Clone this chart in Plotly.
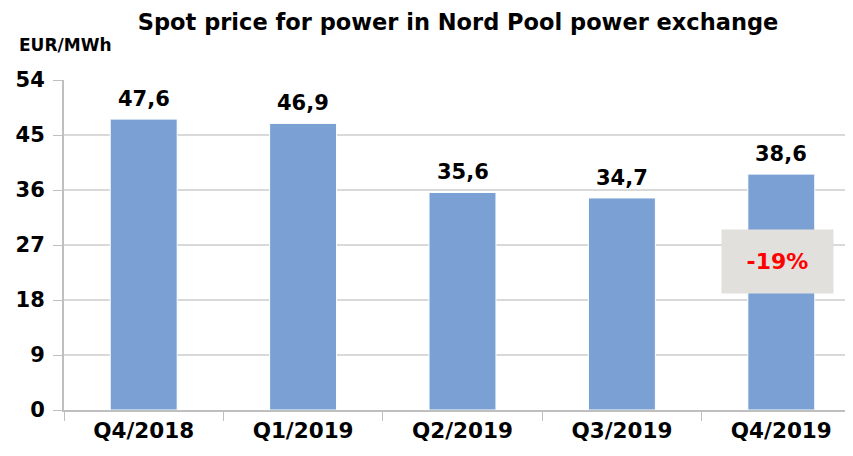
import plotly.graph_objects as go

categories = ["Q4/2018", "Q1/2019", "Q2/2019", "Q3/2019", "Q4/2019"]
prices = [47.6, 46.9, 35.6, 34.7, 38.6]
price_labels = ["47,6", "46,9", "35,6", "34,7", "38,6"]
y_ticks = [0, 9, 18, 27, 36, 45, 54]

FONT = "DejaVu Sans, Liberation Sans, Arial, sans-serif"

fig = go.Figure(go.Bar(
    x=categories, y=prices,
    marker=dict(color="#7AA0D4", line=dict(color="#FFFFFF", width=1)),
    width=0.42,
))

annotations = [
    dict(text="<b>%s</b>" % lab, x=c, y=v, xref="x", yref="y",
         xanchor="center", yanchor="bottom", yshift=6, showarrow=False,
         font=dict(size=21, family=FONT, color="#000000"))
    for c, v, lab in zip(categories, prices, price_labels)
]
annotations += [
    dict(text="<b>EUR/MWh</b>", xref="paper", yref="paper", x=-0.059, y=1.106,
         xanchor="left", yanchor="middle", showarrow=False,
         font=dict(size=17, family=FONT, color="#000000")),
    dict(text="<b>-19%</b>", xref="x", yref="y", x=3.975, y=24.3,
         xanchor="center", yanchor="middle", showarrow=False,
         bgcolor="#E1E0DD", width=109, height=61,
         font=dict(size=22, family=FONT, color="#FF0000")),
]

fig.update_layout(
    width=853, height=456,
    margin=dict(l=56, r=0, t=72, b=54),
    paper_bgcolor="white", plot_bgcolor="white",
    showlegend=False,
    font=dict(family=FONT, color="#000000"),
    title=dict(text="<b>Spot price for power in Nord Pool power exchange</b>",
               x=0.5276, xanchor="center", y=0.968, yanchor="middle",
               font=dict(size=22.5, family=FONT, color="#000000")),
    xaxis=dict(range=[-0.5, 4.5], tickson="boundaries", ticks="outside", ticklen=9,
               tickcolor="#BFBFBF", showline=True, linecolor="#BFBFBF", linewidth=2,
               tickfont=dict(size=21.5, family=FONT, weight="bold"), showgrid=False,
               automargin=False),
    yaxis=dict(range=[0, 54], tickvals=y_ticks, ticks="outside", ticklen=9,
               tickcolor="#BFBFBF", showline=True, linecolor="#BFBFBF", linewidth=2,
               gridcolor="#D9D9D9", gridwidth=2, zeroline=False,
               tickfont=dict(size=21, family=FONT, weight="bold"), ticklabelstandoff=4,
               automargin=False),
    annotations=annotations,
)

fig.write_html("out.html")
